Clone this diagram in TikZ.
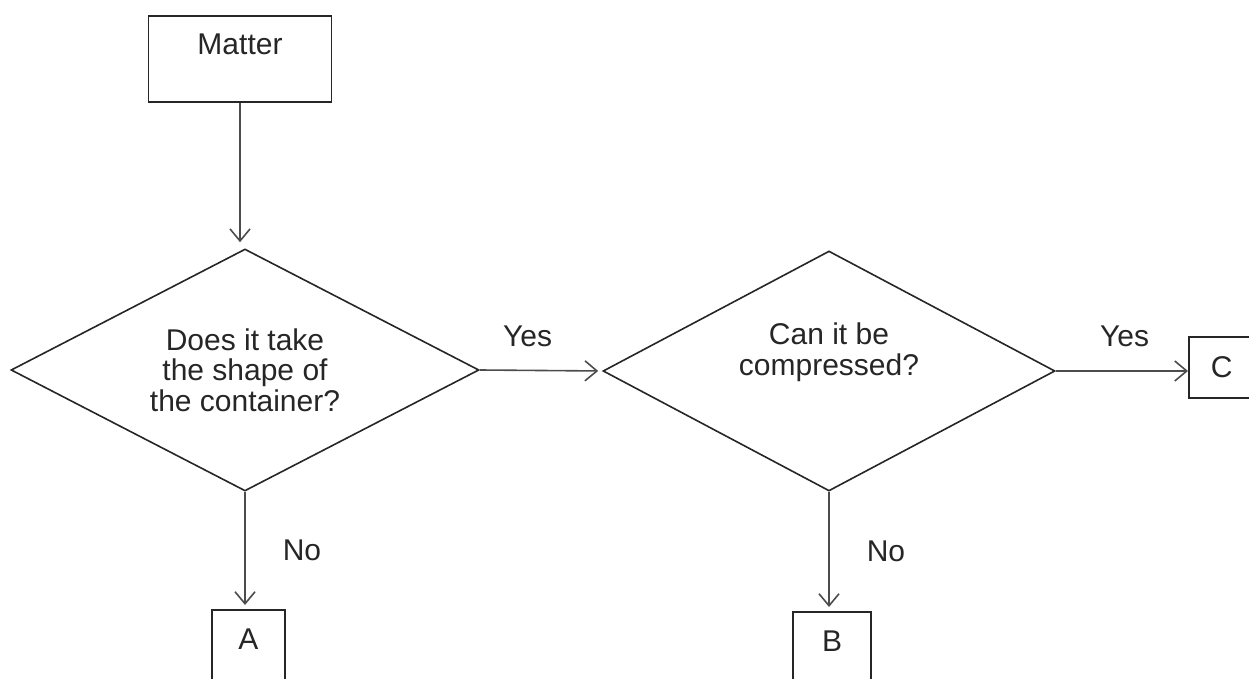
\documentclass[tikz,border=0pt]{standalone}
\usepackage{fontspec}
\setmainfont{Liberation Sans}
\usetikzlibrary{shapes.geometric,arrows.meta,positioning}

\begin{document}
\begin{tikzpicture}[x=0.5pt,y=-0.5pt,
    font=\fontsize{15}{15.3}\selectfont, color=black!85, line width=0.8pt,
    box/.style={draw, rectangle, inner sep=0pt},
    decision/.style={draw, diamond, inner sep=0pt, align=center},
    flow/.style={-{Straight Barb[length=6pt,width=10pt]}, draw=black!70},
    answer/.style={inner sep=0pt}]
    % Frame of the page
    \useasboundingbox (0,0) rectangle (1249,679);
    \clip (0,0) rectangle (1249,679);
    % Start box
    \node[box, anchor=north, minimum width=91.5pt,
        text height=19.2pt, text depth=23.8pt] (matter) at (240,15) {Matter};
    % Two questions
    \node[decision, shape aspect=1.93, minimum width=234pt, minimum height=121pt]
        (q1) at (245,370) {Does it take\\the shape of\\the container?};
    \node[decision, shape aspect=1.88, minimum width=226pt, minimum height=120pt,
        text depth=22pt] (q2) at (829,371) {Can it be\\compressed?};
    % Outcome boxes (cut by the page edge)
    \node[box, anchor=north, minimum width=36.5pt,
        text height=19.7pt, text depth=35pt] (a) at (248.5,609) {A};
    \node[box, anchor=north, minimum width=39pt,
        text height=19.7pt, text depth=35pt] (b) at (832,611) {B};
    \node[box, anchor=west, minimum height=30.5pt, inner xsep=11pt,
        text width=20pt, align=left] (c) at (1188,367.5) {C};
    % Connectors
    \draw[flow, shorten >=3pt] (matter.south) -- (matter.south |- q1.north);
    \draw[flow, shorten >=2pt] (q1.east) -- node[answer, pos=.39, above=11.5pt] {Yes} (q2.west);
    \draw[flow] (q2.east) -- node[answer, pos=.52, above=11.5pt] {Yes} (q2.east -| c.west);
    \draw[flow, shorten >=2pt] (q1.south) -- node[answer, right=18.5pt] {No} (q1.south |- a.north);
    \draw[flow, shorten >=2pt] (q2.south) -- node[answer, right=18.5pt] {No} (q2.south |- b.north);
\end{tikzpicture}
\end{document}
